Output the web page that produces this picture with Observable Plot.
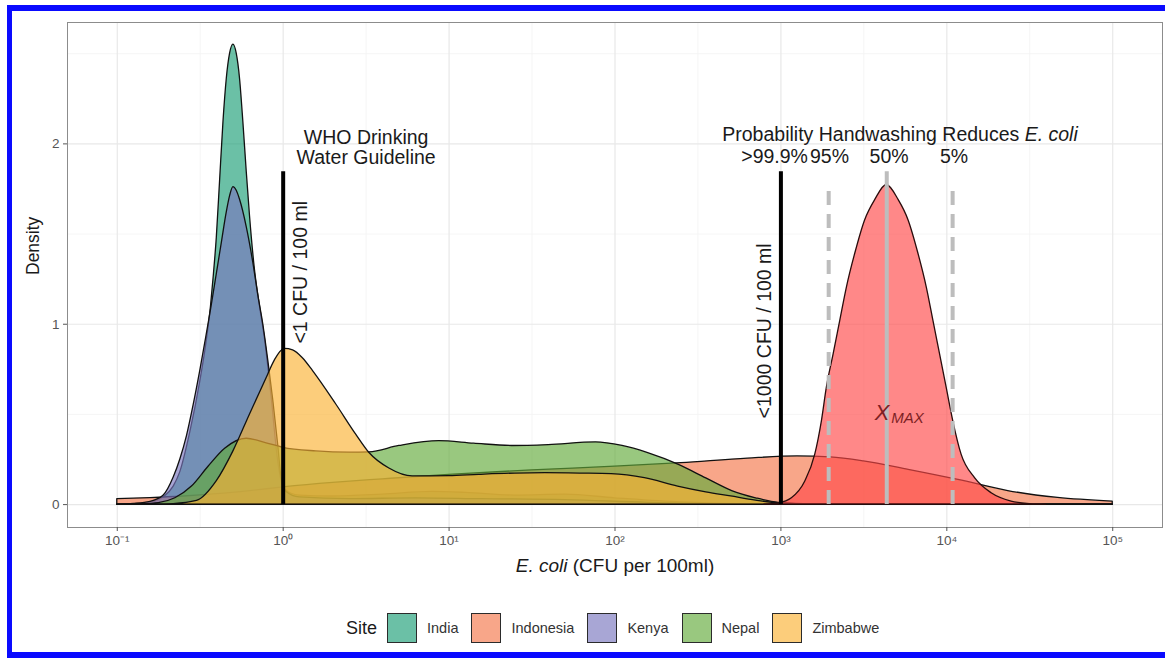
<!DOCTYPE html>
<html>
<head>
<meta charset="utf-8">
<script src="https://cdn.jsdelivr.net/npm/d3@7"></script>
<script src="https://cdn.jsdelivr.net/npm/@observablehq/plot@0.6"></script>
<style>
  html, body { margin: 0; padding: 0; background: #fff; }
  body { width: 1165px; height: 658px; position: relative; overflow: hidden; font-family: "Liberation Sans", Arial, Helvetica, sans-serif; }
  #frame { position: absolute; left: 7px; top: 5px; width: 1170px; height: 653px; box-sizing: border-box;
           border-left: 5px solid #0a0aff; border-top: 6px solid #0a0aff; border-bottom: 6px solid #0a0aff; pointer-events: none; z-index: 3; }
  #chart { position: absolute; left: 0; top: 0; }
  #legend { position: absolute; left: 346px; top: 613px; height: 30px; display: flex; align-items: center; }
  #legend .ttl { font-size: 18px; color: #1a1a1a; margin-right: 10px; }
  #legend .sw { width: 28px; height: 28px; border: 1.5px solid #2b2b2b; margin-right: 10px; }
  #legend .lab { font-size: 14.5px; color: #333; margin-right: 13px; }
</style>
</head>
<body>
<div id="chart"></div>
<div id="legend"></div>
<div id="frame"></div>
<script>
// ---- categories & colours ----
const sites = ["India", "Indonesia", "Kenya", "Nepal", "Zimbabwe"];
const siteColors = ["#1b9e77", "#f4774a", "#7a76bf", "#62ab3a", "#fbb234"];
const fillAlpha = 0.65;

// ---- density curves (x = log10 E. coli CFU per 100 ml, d = density) ----
const indiaX = [-1.0,-0.9,-0.8,-0.72,-0.66,-0.62,-0.56,-0.5,-0.465,-0.435,-0.42,-0.40,-0.38,-0.36,-0.34,-0.32,-0.30,-0.28,-0.26,-0.24,-0.22,-0.20,-0.17,-0.14,-0.11,-0.07,-0.03,0.0,0.05,0.1,0.3,0.6,0.9,1.1,1.4,1.7,2.0,2.4,3.0,4.0,5.0];
const indiaD = [0,0.003,0.012,0.04,0.1,0.18,0.40,0.68,0.88,1.10,1.25,1.48,1.80,2.12,2.36,2.50,2.55,2.50,2.36,2.12,1.85,1.60,1.30,1.10,0.92,0.60,0.24,0.10,0.06,0.05,0.045,0.055,0.07,0.065,0.05,0.055,0.035,0.012,0,0,0];

const indonesiaX = [-1.0,-0.8,-0.6,-0.4,-0.2,0.0,0.3,0.6,1.0,1.5,2.0,2.4,2.8,3.1,3.3,3.5,3.77,4.07,4.37,4.67,5.0];
const indonesiaD = [0.03,0.036,0.045,0.058,0.075,0.095,0.12,0.14,0.165,0.19,0.21,0.23,0.255,0.267,0.262,0.24,0.193,0.137,0.075,0.037,0.017];

const kenyaX = [-1.0,-0.9,-0.8,-0.72,-0.66,-0.62,-0.58,-0.54,-0.50,-0.465,-0.435,-0.405,-0.37,-0.34,-0.32,-0.30,-0.28,-0.26,-0.22,-0.18,-0.15,-0.12,-0.09,-0.06,-0.03,-0.01,0.02,0.1,0.4,0.8,1.2,1.7,2.2,3.0,5.0];
const kenyaD = [0,0.004,0.015,0.05,0.15,0.25,0.38,0.55,0.74,0.92,1.08,1.25,1.45,1.62,1.71,1.76,1.74,1.69,1.54,1.34,1.16,1.0,0.8,0.58,0.33,0.15,0.07,0.04,0.03,0.035,0.03,0.025,0.01,0,0];

const nepalX = [-1.0,-0.85,-0.75,-0.65,-0.55,-0.45,-0.35,-0.22,-0.1,0.0,0.2,0.4,0.52,0.7,0.94,1.15,1.38,1.6,1.885,2.045,2.2,2.385,2.55,2.706,2.85,2.987,3.2,3.5,5.0];
const nepalD = [0,0.002,0.008,0.035,0.1,0.21,0.31,0.365,0.34,0.315,0.295,0.288,0.29,0.325,0.352,0.338,0.325,0.33,0.345,0.325,0.285,0.22,0.145,0.075,0.035,0.01,0.002,0,0];

const zimbabweX = [-1.0,-0.8,-0.66,-0.52,-0.4,-0.3,-0.2,-0.1,-0.05,0.01,0.06,0.12,0.18,0.32,0.44,0.52,0.64,0.78,1.0,1.18,1.4,1.58,1.8,1.98,2.18,2.38,2.55,2.7,2.85,2.99,3.2,5.0];
const zimbabweD = [0,0,0.003,0.02,0.13,0.295,0.5,0.7,0.8,0.863,0.855,0.81,0.74,0.555,0.388,0.286,0.2,0.156,0.158,0.165,0.172,0.174,0.172,0.169,0.147,0.1,0.068,0.045,0.022,0.007,0.001,0];

// X_MAX distribution
const xmaxX = [2.9,2.987,3.066,3.147,3.207,3.247,3.277,3.318,3.358,3.398,3.448,3.508,3.568,3.638,3.71,3.769,3.829,3.879,3.919,3.959,3.999,4.039,4.089,4.17,4.27,4.39,4.5,4.6];
const xmaxD = [0,0.007,0.035,0.128,0.277,0.462,0.648,0.834,1.02,1.205,1.391,1.577,1.688,1.772,1.688,1.577,1.391,1.205,1.02,0.834,0.648,0.462,0.277,0.147,0.063,0.017,0.003,0];

// ---- reference lines & annotations ----
const guidelineX = [0, 3];            // 10^0 and 10^3 CFU
const guidelineTop = [1.846, 1.846];
const guidelineLabels = ["<1 CFU / 100 ml", "<1000 CFU / 100 ml"];
const guidelineLabelX = [0.104, 2.901];
const guidelineLabelY = [0.893, 0.478];
const whoLabel = ["WHO Drinking\nWater Guideline"];
const whoX = [0.5], whoY = [1.98];
const probTitle = ["Probability Handwashing Reduces E. coli"];
const probTitleX = [3.718], probTitleY = [2.05];
const quantileLabels = [">99.9%", "95%", "50%", "5%"];
const quantileLabelX = [2.962, 3.293, 3.652, 4.044];
const quantileLabelY = [1.93, 1.93, 1.93, 1.93];
const dashedQuantileX = [3.288, 4.035];   // 95% and 5%
const dashedQuantileTop = [1.778, 1.778];
const medianX = [3.638];                  // 50%
const medianTop = [1.846];
const xmaxLabel = ["X", "MAX"];
const xmaxLabelX = [3.565, 3.665];
const xmaxLabelY = [0.508, 0.48];

// ---- axes ----
const xMajor = [-1, 0, 1, 2, 3, 4, 5];
const xMinor = [-0.5, 0.5, 1.5, 2.5, 3.5, 4.5];
const yMajor = [0, 1, 2];
const yMinor = [0.5, 1.5, 2.5];
const xTitle = ["E. coli (CFU per 100ml)"];
const yTitle = ["Density"];

const sup = {"-": "\u207B", "0": "\u2070", "1": "\u00B9", "2": "\u00B2", "3": "\u00B3", "4": "\u2074", "5": "\u2075"};
const fmtPow = d => "10" + String(d).split("").map(c => sup[c]).join("");

// ---- build table for the library ----
const series = [[indiaX, indiaD], [indonesiaX, indonesiaD], [kenyaX, kenyaD], [nepalX, nepalD], [zimbabweX, zimbabweD]];
const dens = [];
series.forEach(([xs, ds], i) => xs.forEach((x, j) => dens.push({site: sites[i], x, d: ds[j]})));
const xmax = xmaxX.map((x, j) => ({x, d: xmaxD[j]}));

const font = "Liberation Sans, Arial, Helvetica, sans-serif";
const annSize = 19.5;

const chart = Plot.plot({
  width: 1165,
  height: 590,
  marginLeft: 67,
  marginRight: 3,
  marginTop: 22,
  marginBottom: 63,
  style: {fontFamily: font, fontSize: "13px", background: "white", overflow: "visible"},
  x: {type: "linear", domain: [-1.3, 5.3], axis: null},
  y: {domain: [-0.127, 2.673], axis: null},
  color: {domain: sites, range: siteColors},
  marks: [
    Plot.gridX(xMinor, {stroke: "#f2f2f2", strokeOpacity: 1, strokeWidth: 0.8}),
    Plot.gridY(yMinor, {stroke: "#f2f2f2", strokeOpacity: 1, strokeWidth: 0.8}),
    Plot.gridX(xMajor, {stroke: "#e8e8e8", strokeOpacity: 1, strokeWidth: 1.2}),
    Plot.gridY(yMajor, {stroke: "#e8e8e8", strokeOpacity: 1, strokeWidth: 1.2}),
    Plot.area(dens, {x1: "x", y1: 0, y2: "d", z: "site", fill: "site", fillOpacity: fillAlpha,
                     stroke: "#111", strokeWidth: 1.3, curve: "monotone-x"}),
    Plot.area(xmax, {x1: "x", y1: 0, y2: "d", fill: "#ff4848", fillOpacity: fillAlpha,
                     stroke: "#2a0c0c", strokeWidth: 1.3, curve: "monotone-x"}),
    Plot.ruleX(dashedQuantileX, {x: d => d, y1: 0, y2: (d, i) => dashedQuantileTop[i], stroke: "#bdbdbd",
                                 strokeWidth: 4, strokeDasharray: "14,9"}),
    Plot.ruleX(medianX, {x: d => d, y1: 0, y2: (d, i) => medianTop[i], stroke: "#bdbdbd", strokeWidth: 4}),
    Plot.ruleX(guidelineX, {x: d => d, y1: 0, y2: (d, i) => guidelineTop[i], stroke: "black", strokeWidth: 4}),
    Plot.text(guidelineLabels, {x: (d, i) => guidelineLabelX[i], y: (d, i) => guidelineLabelY[i], text: d => d,
                                rotate: -90, textAnchor: "start", fontSize: annSize, fill: "#1a1a1a"}),
    Plot.text(whoLabel, {x: (d, i) => whoX[i], y: (d, i) => whoY[i], text: d => d, textAnchor: "middle",
                         fontSize: annSize, lineHeight: 1.05, fill: "#1a1a1a"}),
    Plot.text(probTitle, {x: (d, i) => probTitleX[i], y: (d, i) => probTitleY[i], text: d => d, textAnchor: "middle",
                          fontSize: annSize, fill: "#1a1a1a"}),
    Plot.text(quantileLabels, {x: (d, i) => quantileLabelX[i], y: (d, i) => quantileLabelY[i], text: d => d,
                               textAnchor: "middle", fontSize: annSize, fill: "#1a1a1a"}),
    Plot.text(xmaxLabel, {x: (d, i) => xmaxLabelX[i], y: (d, i) => xmaxLabelY[i], text: d => d, textAnchor: "start",
                          fontSize: (d, i) => i === 0 ? 22 : 15, fontStyle: "italic", fill: "#7d1f24"}),
    Plot.frame({stroke: "#8c8c8c", strokeWidth: 1}),
    Plot.axisX(xMajor, {tickSize: 4, tickPadding: 4, tickFormat: fmtPow, label: null, color: "#555", fontSize: 13.5}),
    Plot.axisY(yMajor, {tickSize: 4, tickPadding: 4, tickFormat: d => String(d), label: null, color: "#555", fontSize: 13.5}),
    Plot.text(xTitle, {frameAnchor: "bottom", dy: 44, text: d => d, fontSize: 19, fill: "#1a1a1a"}),
    Plot.text(yTitle, {frameAnchor: "left", dx: -34, rotate: -90, text: d => d, fontSize: 17.5, fill: "#1a1a1a"})
  ]
});

// mixed italic / upright text runs
const rich = {
  "Probability Handwashing Reduces E. coli": [["Probability Handwashing Reduces ", false], ["E. coli", true]],
  "E. coli (CFU per 100ml)": [["E. coli", true], [" (CFU per 100ml)", false]]
};
d3.select(chart).selectAll("text").each(function() {
  const parts = rich[this.textContent];
  if (!parts) return;
  const t = d3.select(this);
  t.text(null).style("white-space", "pre");
  for (const [s, it] of parts) t.append("tspan").attr("font-style", it ? "italic" : "normal").text(s);
});

document.getElementById("chart").appendChild(chart);

// legend
const legend = d3.select("#legend");
legend.append("span").attr("class", "ttl").text("Site");
sites.forEach((s, i) => {
  const c = d3.color(siteColors[i]); c.opacity = fillAlpha;
  legend.append("div").attr("class", "sw").style("background", c.formatRgb());
  legend.append("span").attr("class", "lab").text(s);
});
</script>
</body>
</html>
